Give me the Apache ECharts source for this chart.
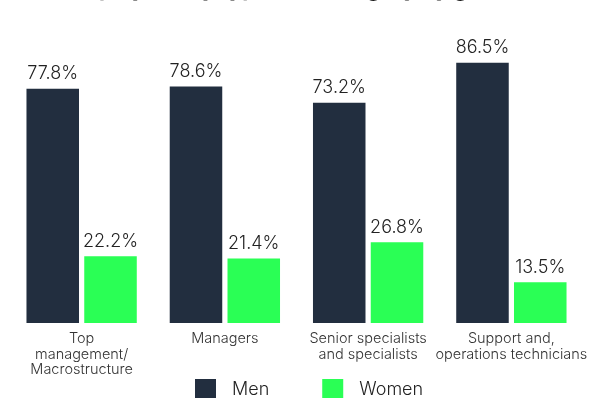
<!DOCTYPE html>
<html>
<head>
<meta charset="utf-8">
<script src="https://cdn.jsdelivr.net/npm/echarts@6/dist/echarts.min.js"></script>
<style>
  html, body { margin: 0; padding: 0; background: #ffffff; }
  #chart { width: 596px; height: 398px; }
</style>
</head>
<body>
<div id="chart"></div>
<script>
// Workforce share by professional category, split by gender (percent)
const categories = [
  'Top\nmanagement/\nMacrostructure',
  'Managers',
  'Senior specialists\nand specialists',
  'Support and,\noperations technicians'
];
const menShare = [77.8, 78.6, 73.2, 86.5];
const womenShare = [22.2, 21.4, 26.8, 13.5];

const FONT = 'Inter, "Noto Sans", sans-serif';

const chart = echarts.init(document.getElementById('chart'), null, { renderer: 'canvas' });

const valueLabel = {
  show: true,
  position: 'top',
  distance: 6,
  fontFamily: FONT,
  fontSize: 18,
  fontWeight: 300,
  color: '#222222',
  formatter: p => p.value.toFixed(1) + '%'
};

chart.setOption({
  animation: false,
  backgroundColor: '#ffffff',
  title: {
    text: 'Employees by type and category by gender',
    left: 'center',
    top: -22,
    padding: 0,
    textStyle: { fontFamily: FONT, fontSize: 22, fontWeight: 'bold', color: '#111111' }
  },
  legend: {
    data: ['Men', 'Women'],
    left: 195,
    top: 379,
    padding: 0,
    itemWidth: 21,
    itemHeight: 21,
    itemGap: 53,
    icon: 'rect',
    textStyle: { fontFamily: FONT, fontSize: 18, fontWeight: 300, color: '#222222', padding: [0, 0, 0, 11] }
  },
  grid: { left: 10, right: 13, top: 22, bottom: 75 },
  xAxis: {
    type: 'category',
    data: categories,
    axisLine: { show: false },
    axisTick: { show: false },
    axisLabel: {
      interval: 0,
      margin: 8,
      fontFamily: FONT,
      fontSize: 14.5,
      fontWeight: 300,
      lineHeight: 15.5,
      color: '#333333'
    }
  },
  yAxis: {
    type: 'value',
    min: 0,
    max: 100,
    show: false,
    splitLine: { show: false }
  },
  series: [
    {
      name: 'Men',
      type: 'bar',
      data: menShare,
      barGap: '10%',
      barCategoryGap: '23%',
      itemStyle: { color: '#222e3f' },
      label: valueLabel
    },
    {
      name: 'Women',
      type: 'bar',
      data: womenShare,
      itemStyle: { color: '#2aff55' },
      label: valueLabel
    }
  ]
});
</script>
</body>
</html>
